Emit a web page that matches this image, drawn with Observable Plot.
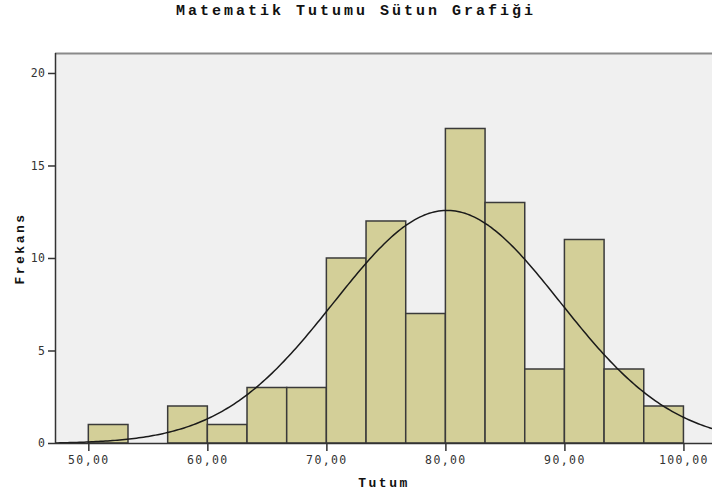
<!DOCTYPE html>
<html><head><meta charset="utf-8">
<script src="https://cdn.jsdelivr.net/npm/d3@7"></script>
<script src="https://cdn.jsdelivr.net/npm/@observablehq/plot@0.6"></script>
<style>
body{margin:0;background:#fff;}
#title{box-sizing:border-box;height:30px;padding-top:4px;font-family:"Liberation Mono","DejaVu Sans Mono",monospace;font-weight:bold;font-size:15px;line-height:15px;letter-spacing:3px;text-align:center;color:#111;}
</style></head><body>
<div id="title">Matematik Tutumu Sütun Grafiği</div>
<div id="chart"></div>
<script>
// Histogram bins (Tutum) and frequencies (Frekans)
const binEdges = [50, 53.333, 56.667, 60, 63.333, 66.667, 70, 73.333, 76.667, 80, 83.333, 86.667, 90, 93.333, 96.667, 100];
const counts   = [1, 0, 2, 1, 3, 3, 10, 12, 7, 17, 13, 4, 11, 4, 2];
const xTicks = [50, 60, 70, 80, 90, 100];
const xTickLabels = ["50,00", "60,00", "70,00", "80,00", "90,00", "100,00"];
const yTicks = [0, 5, 10, 15, 20];
// Fitted normal curve parameters
const normalMean = 80.1;
const normalSD = 9.5;
const sampleN = 90;

const xDomain = [47.2, 102.4];
const yDomain = [0, 21.08];

const bars = counts.map((c, i) => ({x1: binEdges[i], x2: binEdges[i + 1], y: c})).filter(d => d.y > 0);
const binWidth = binEdges[1] - binEdges[0];
const curve = d3.range(xDomain[0], xDomain[1] + 0.01, 0.2).map(x => ({
  x,
  y: sampleN * binWidth / (normalSD * Math.sqrt(2 * Math.PI)) * Math.exp(-((x - normalMean) ** 2) / (2 * normalSD ** 2))
}));

const tickFont = "DejaVu Sans Mono, monospace";
const labelFont = "Liberation Mono, DejaVu Sans Mono, monospace";

const chart = Plot.plot({
  width: 712,
  height: 470,
  marginTop: 23,
  marginBottom: 57,
  marginLeft: 55,
  marginRight: 0,
  style: {fontFamily: tickFont, fontSize: "11.5px", color: "#333", background: "#fff"},
  x: {domain: xDomain},
  y: {domain: yDomain},
  marks: [
    Plot.frame({fill: "#f0f0f0", stroke: null}),
    Plot.ruleY([yDomain[1]], {stroke: "#8a8a8a", strokeWidth: 2}),
    Plot.rectY(bars, {x1: "x1", x2: "x2", y: "y", fill: "#d3cf98", stroke: "#3a3a3a", strokeWidth: 1.5}),
    Plot.line(curve, {x: "x", y: "y", stroke: "#1a1a1a", strokeWidth: 1.5, clip: true}),
    Plot.ruleX([xDomain[0]], {stroke: "#333", strokeWidth: 1.5}),
    Plot.ruleY([0], {stroke: "#333", strokeWidth: 1.5}),
    Plot.axisX({ticks: xTicks, tickFormat: (d) => xTickLabels[xTicks.indexOf(d)], tickSize: 8, tickPadding: 4, stroke: "#333", strokeWidth: 1.5, label: null}),
    Plot.axisY({ticks: yTicks, tickSize: 7, tickPadding: 3, stroke: "#333", strokeWidth: 1.5, label: null}),
    Plot.text(["Tutum"], {frameAnchor: "bottom", dy: 43, fontWeight: "bold", fontFamily: labelFont, fontSize: 13, fill: "#111"}),
    Plot.text(["Frekans"], {frameAnchor: "left", textAnchor: "middle", dx: -36, rotate: -90, fontWeight: "bold", fontFamily: labelFont, fontSize: 13, fill: "#111"})
  ]
});
d3.select(chart).selectAll("g[aria-label='x-axis tick label'] text").style("letter-spacing", "1.4px");
d3.select(chart).selectAll("g[aria-label='y-axis tick label'] text").style("letter-spacing", "0.5px");
d3.select(chart).selectAll("g[aria-label='text'] text").style("letter-spacing", "2.5px");
document.getElementById("chart").appendChild(chart);
</script>
</body></html>
